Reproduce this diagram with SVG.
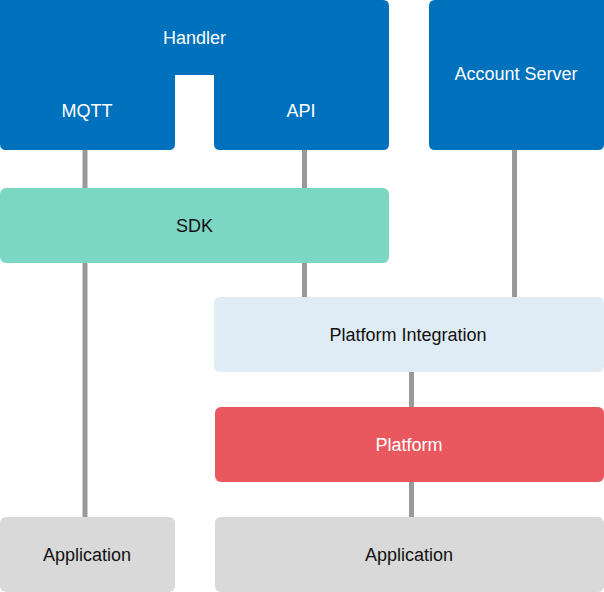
<svg xmlns="http://www.w3.org/2000/svg" width="604" height="592" viewBox="0 0 604 592">
<style>
text{font-family:"Liberation Sans",Arial,sans-serif;font-size:18px;text-anchor:middle}
.w{fill:#ffffff}
.k{fill:#111111}
.blue{fill:#0071BD}
.conn{stroke:#999999;stroke-width:5;fill:none}
</style>
<rect width="604" height="592" fill="#ffffff"/>
<g id="connectors">
<line class="conn" x1="85" y1="148" x2="85" y2="519"/>
<line class="conn" x1="304.5" y1="148" x2="304.5" y2="299"/>
<line class="conn" x1="514.5" y1="148" x2="514.5" y2="299"/>
<line class="conn" x1="411.5" y1="370" x2="411.5" y2="519"/>
</g>
<g id="handler">
<path class="blue" d="M0,0 H383 Q389,0 389,6 V144 Q389,150 383,150 H220 Q214,150 214,144 V75 H175 V144 Q175,150 169,150 H6 Q0,150 0,144 Z"/>
<text class="w" x="194.5" y="44">Handler</text>
<text class="w" x="87" y="117">MQTT</text>
<text class="w" x="301" y="117">API</text>
</g>
<g id="account-server">
<path class="blue" d="M435,0 H604 V144 Q604,150 598,150 H435 Q429,150 429,144 V6 Q429,0 435,0 Z"/>
<text class="w" x="516" y="80">Account Server</text>
</g>
<g id="sdk">
<rect x="0" y="188" width="389" height="75" rx="6" fill="#7CD6C4"/>
<text class="k" x="194.5" y="232">SDK</text>
</g>
<g id="platform-integration">
<rect x="214" y="297" width="390" height="75" rx="6" fill="#DFECF6"/>
<text class="k" x="408" y="341">Platform Integration</text>
</g>
<g id="platform">
<rect x="215" y="407" width="389" height="75" rx="6" fill="#E9585E"/>
<text class="w" x="409" y="451">Platform</text>
</g>
<g id="application-left">
<rect x="0" y="517" width="175" height="75" rx="6" fill="#D9D9D9"/>
<text class="k" x="87" y="561">Application</text>
</g>
<g id="application-right">
<rect x="215" y="517" width="389" height="75" rx="6" fill="#D9D9D9"/>
<text class="k" x="409" y="561">Application</text>
</g>
</svg>
